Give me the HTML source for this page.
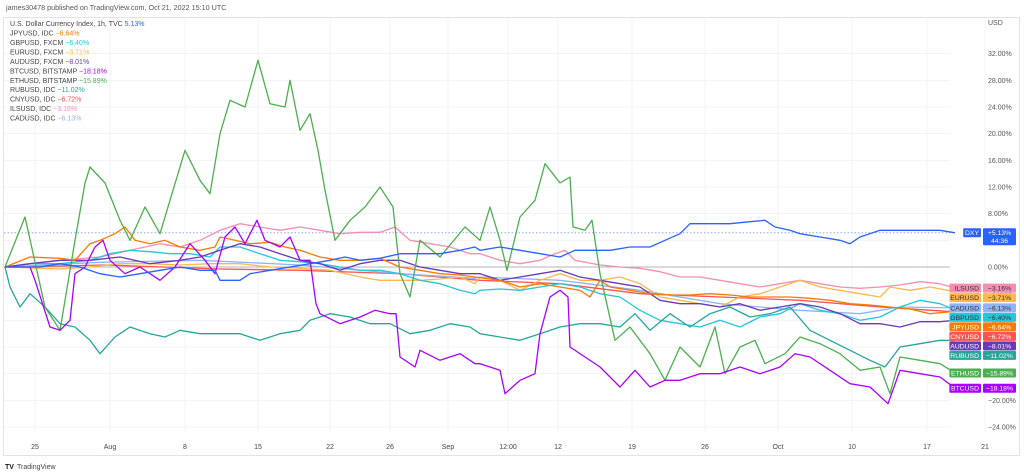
<!DOCTYPE html>
<html><head><meta charset="utf-8"><style>
html,body{margin:0;padding:0;background:#fff;width:1024px;height:475px;overflow:hidden}
svg{display:block;font-family:"Liberation Sans",sans-serif}
</style></head><body>
<svg id="chart" width="1024" height="475" viewBox="0 0 1024 475"></svg>
<script>
// ---- data ----
const yTicks=[32,28,24,20,16,12,8,4,0,-4,-8,-12,-16,-20,-24];
const xTickPos=[3,10.5,18,25.3,32.5,38.5,44.3,50.3,55.3,62.7,70,77.3,84.7,92.2,98];
const xTickLabels=["25","Aug","8","15","22","26","Sep","12:00","12","19","26","Oct","10","17","21"];
const dxy=[[0,0],[1.5,0],[3.5,0],[5.5,0.5],[7.5,0],[9.5,-1],[11.5,-1.5],[13.5,-1],[15.5,-0.5],[17.5,0],[19.5,-0.5],[21,-0.5],[21.5,-2],[23.5,-2],[24.5,-1],[26.5,-0.5],[28.5,0],[30.5,0.5],[32.5,1],[34,1.5],[35.5,1],[37.5,1.3],[39.5,2],[41.5,2],[43.5,2],[45.5,2.5],[47,3],[47.5,2.5],[49.5,3],[51.5,2.5],[53.5,2],[55.5,1.5],[57,2.5],[58.5,2.5],[60.5,2.5],[62.5,3],[64.5,3],[66,4],[67.5,5],[68.5,6.5],[70.5,6.5],[72.5,6.5],[74.5,6.8],[76,7],[77,6],[78.5,5.5],[79.5,5],[81.5,4.5],[83.5,4],[84.5,3.5],[85.5,4.5],[87.5,5.5],[89.5,5.5],[91.5,5.5],[93.5,5.5],[95,5.13]];
const jpy=[[0,0],[2.5,1.5],[5.5,1.3],[7,1],[8.5,3.5],[9.5,4],[11,5],[12,6],[13,4],[14.5,3.5],[16,4],[17.5,3],[19.5,2.5],[21,3],[21.5,4.5],[23,4],[24.5,3.5],[26.5,3.7],[28,3],[29.5,2.5],[31.5,1.5],[33.5,1],[35.5,1],[37.5,1.3],[39.5,0],[41.5,-0.5],[43.5,-1],[45.5,-1.2],[47,-1.5],[49.5,-2],[51.5,-3],[53.5,-2.5],[55.5,-3],[57.5,-3.5],[58.5,-4.5],[59.5,-2],[60.5,-3],[62.5,-3.5],[64.5,-4],[66.5,-4.2],[68.5,-4.2],[70.5,-4],[72.5,-4.2],[74.5,-4.5],[76.5,-4.5],[78.5,-4.5],[80.5,-4.7],[82.5,-5],[84.5,-5.5],[86.5,-5.7],[88.5,-6],[90.5,-6.3],[92.5,-7],[95,-6.64]];
const gbp=[[0,0],[2.5,0.5],[5.5,0.5],[8.5,1],[10.5,2],[12.5,2.5],[14.5,2.3],[16.5,2],[18.5,2],[20.5,1.5],[21.5,3],[23.5,3],[25.5,2],[27.5,1],[29.5,0.8],[31.5,0.5],[33.5,0],[35.5,-0.5],[37.5,-0.5],[39.5,-1],[41.5,-2],[43.5,-2.5],[45.5,-3.5],[47,-4],[47.5,-3.5],[49.5,-3.3],[51.5,-3.5],[53.5,-3],[55.5,-2.5],[57.5,-3],[59.5,-4],[61.5,-4.5],[63.5,-6.5],[65.5,-8],[67.5,-8.5],[69.5,-9],[71.5,-8],[73.5,-9],[75.5,-7.5],[77.5,-7],[79.5,-5.5],[81.5,-6.5],[83.5,-7],[85.5,-8],[87.5,-7.5],[89.5,-6],[91.5,-5],[93.5,-5.5],[95,-6.4]];
const eur=[[0,0],[5.5,-0.3],[8.5,0],[11.5,0.5],[14.5,0.5],[17.5,0.3],[20.5,0.5],[23.5,0.5],[26.5,0],[29.5,-0.2],[32.5,-0.5],[35.5,-1.5],[37.5,-2],[41.5,-2],[43.5,-1.8],[45.5,-1.5],[47,-2.5],[47.5,-1.5],[49.5,-2],[51.5,-3.5],[53.5,-2],[55.5,-1],[57.5,-2],[59.5,-2],[61.5,-1.5],[63.5,-2.5],[65.5,-4.5],[67.5,-5],[69.5,-5.5],[71.5,-6],[73.5,-4.5],[75.5,-4],[77.5,-3],[79.5,-2],[81.5,-3],[83.5,-3.5],[85.5,-4],[87.5,-4.5],[88.5,-3],[90.5,-3.5],[92.5,-3],[95,-3.71]];
const aud=[[0,0],[2.5,0.5],[5.5,1],[8.5,1],[11.5,1.5],[14.5,0.5],[17.5,1],[19.5,1.5],[21.5,2.5],[23.5,3.5],[25.5,3],[27.5,2],[29.5,1],[31.5,0.5],[33.5,-0.5],[35.5,0.5],[37.5,1],[39.5,1],[41.5,0],[43.5,-0.5],[45.5,-1],[47.5,-1],[49.5,-2],[51.5,-1.5],[53.5,-1],[55.5,-0.5],[57.5,-1.5],[59.5,-2],[61.5,-2.5],[63.5,-3],[65.5,-5],[67.5,-5.5],[69.5,-5.5],[71.5,-6],[73.5,-5.5],[75.5,-6.5],[77.5,-6],[79.5,-5.5],[81.5,-6],[83.5,-7],[85.5,-8.5],[87.5,-8.5],[89.5,-9],[91.5,-8.2],[93.5,-8.2],[95,-8.01]];
const btc=[[0,0],[1.5,0],[2.5,0],[3,-2],[4.5,-9],[5.5,-9.5],[6.5,-8],[7,-1],[8,0],[9,3],[9.8,4],[10.5,1],[12,-1],[13.5,0],[15.5,-2],[17,0],[18.5,3.5],[20,1],[21,-1],[22,4.5],[23,6],[24,3.5],[25.2,7],[26,4],[27.5,3],[28.5,4.5],[29.5,1],[30.5,1],[31.1,-5.5],[31.5,-7],[33.5,-8.5],[35.5,-7.5],[37,-6.5],[38.5,-7],[39.1,-7],[39.5,-13.5],[41,-15],[41.5,-12.5],[43.5,-14],[45.5,-13],[47,-14.5],[47.5,-14.5],[49.5,-15.5],[50,-19],[51.5,-17],[53,-16],[53.5,-10],[54.5,-4.5],[55.5,-3.5],[56.3,-4.5],[56.5,-12],[58,-13.5],[59.5,-15],[61.5,-18],[63,-15.5],[64.5,-18],[66,-17],[67.5,-17],[69.5,-16],[71.5,-16],[73.5,-15],[75.5,-16],[77.5,-15],[79,-13],[80.5,-13.5],[82.5,-15.5],[84.5,-17.5],[86.5,-18],[88.3,-20.5],[89.5,-15.5],[91.5,-16],[93.5,-16.5],[95,-18.18]];
const eth=[[0,0],[2,7.5],[4,-6],[5.5,-9.5],[7,4],[8,12.6],[8.5,15],[10,12.6],[11.5,7],[12.5,4],[14,9],[15.5,5],[16.5,10],[18,17.5],[19.5,13],[20.5,11],[21.5,20],[22.5,25],[24,24],[25.3,31],[26.5,24.5],[28,24],[28.5,28],[29.5,20.5],[30.5,23],[31.3,17.5],[32,11.5],[33,4],[34.5,7],[36,9],[37.5,12],[38.8,9],[39.5,-1],[40.5,-4.5],[41.5,4],[43.5,1.5],[46,6],[47.5,4],[48.5,9],[49.5,4],[50.2,-0.5],[51.5,7.5],[53,10],[54,15.5],[55.5,12.6],[56.5,13.5],[56.8,6],[58,5.5],[58.7,7],[59.5,-1],[61,-11],[62.5,-9],[64.5,-13],[66,-17],[67.5,-12],[69.5,-15],[71,-9],[72,-16],[73.5,-12],[75,-11],[76,-14.5],[78,-13],[79.5,-10.5],[81.5,-11.5],[83.5,-13],[85.5,-15.5],[87.5,-15],[88.5,-19],[89.5,-13.5],[91.5,-14],[93.5,-14.5],[95,-15.89]];
const rub=[[0,0],[0.5,-3],[1.5,-6],[2.5,-4],[4,-6],[5.5,-8.5],[7,-9],[8.5,-11],[9.5,-13],[11,-10.5],[12.5,-9],[14.5,-10],[16,-10.5],[17.5,-9.5],[19.5,-10],[21.5,-10],[23.5,-10],[25.5,-11],[27.5,-10],[29.5,-9.5],[30.5,-8],[32.5,-7],[34.5,-7.5],[36.5,-8.5],[38.5,-8.5],[40.5,-10],[42.5,-9.5],[44.5,-8.5],[46.5,-9],[47.5,-10],[49.5,-10.5],[51.5,-11],[53.5,-10],[55.5,-9],[57.5,-8.5],[59.5,-8.5],[61.5,-9],[63,-7],[64.5,-9.5],[66.5,-7],[68.5,-9],[70.5,-7],[72.5,-6],[74.5,-7.5],[76.5,-7],[78.5,-6],[80.5,-9.5],[82.5,-11],[84.5,-12.5],[86.5,-14],[88,-15],[89.5,-12],[91.5,-11.5],[93.5,-11],[95,-11.02]];
const cny=[[0,0],[10,0.3],[21.5,-0.3],[29.5,-0.5],[39.5,-1],[47.5,-2],[55.5,-2.5],[63.5,-4],[71.5,-4.5],[79.5,-5],[87.5,-6],[95,-6.72]];
const ils=[[0,0],[5.5,1],[9.5,1.5],[12.5,2.5],[15.5,3.5],[17.5,3],[19.5,4],[21.5,5.5],[23.5,6.5],[25.5,6],[27.5,5.5],[29.5,6],[31.5,5.5],[33.5,5],[35.5,5.2],[37.5,5.2],[39,6],[40.5,4],[42.5,3.5],[44.5,3],[46.5,2],[47.5,2],[49.5,1],[51.5,0.5],[53.5,1],[55,2],[56,2.5],[57,1],[59.5,0.3],[61.5,0],[63.5,-0.2],[65.5,-0.7],[67.5,-1.5],[69.5,-1.5],[71.5,-2],[73.5,-2.5],[75.5,-3],[77.5,-2.5],[79.5,-2],[81.5,-2.5],[83.5,-3],[85.5,-3.2],[87.5,-3],[89.5,-2.7],[91.5,-2.2],[93.5,-2.5],[95,-3.16]];
const cad=[[0,0],[9.5,0.7],[19.5,1],[29.5,0.3],[39.5,-1],[47,-1.7],[47.5,-1.5],[55.5,-2],[63.5,-3.5],[71.5,-5.5],[79.5,-6.5],[85.5,-7],[89.5,-6],[95,-6.13]];

const seriesNames=["JPYUSD","GBPUSD","EURUSD","AUDUSD","BTCUSD","ETHUSD","RUBUSD","CNYUSD","ILSUSD","CADUSD"];
const seriesData=[jpy,gbp,eur,aud,btc,eth,rub,cny,ils,cad];
const seriesSrc=["IDC","FXCM","FXCM","FXCM","BITSTAMP","BITSTAMP","IDC","IDC","IDC","IDC"];
const seriesColors=["#f57c00","#26c6da","#ffb74d","#673ab7","#aa00ff","#4caf50","#26a69a","#ff5252","#f48fb1","#90b4f9"];
const darkText=[false,true,true,false,false,false,false,false,true,true];

// ---- scales ----
const X0=5,XS=10;
function xs(t){return X0+t*XS;}
function ys(v){return 267-v*6.667;}
const NS="http://www.w3.org/2000/svg";
const svg=document.getElementById('chart');
function mk(tag,attrs,parent){const e=document.createElementNS(NS,tag);for(const k in attrs)e.setAttribute(k,attrs[k]);(parent||svg).appendChild(e);return e;}
function fmt(v){return (v>0?"+":v<0?"−":"")+Math.abs(v).toFixed(2)+"%";}

// frame
let fr=mk('rect',{x:3.5,y:17.5,width:1016,height:438,fill:'none',stroke:'#e0e3eb'});



// grid
const grid=mk('g',{});


yTicks.forEach(v=>{mk('line',{x1:4,x2:950,y1:ys(v),y2:ys(v),stroke:'#f2f3f7'},grid);});
xTickPos.forEach(t=>{mk('line',{x1:xs(t),x2:xs(t),y1:18,y2:432,stroke:'#f2f3f7'},grid);});
let zl=mk('line',{x1:4,x2:950,y1:ys(0),y2:ys(0),stroke:'#b2b5be'});


let dl=mk('line',{x1:4,x2:950,y1:ys(dxy[dxy.length-1][1]),y2:ys(dxy[dxy.length-1][1]),stroke:'#8fa6ff','stroke-dasharray':'1.5,2'});



// y axis labels
const ya=mk('g',{'font-size':'7','fill':'#555'});


yTicks.forEach(v=>{
  if(v===4) return;
  const t=mk('text',{x:988,y:ys(v)+2.5},ya);
  t.textContent=(v<0?"−":"")+Math.abs(v).toFixed(2)+"%";
  
  
});
const usd=mk('text',{x:988,y:25,'font-size':'7',fill:'#555'});usd.textContent="USD";



// x axis labels
const xa=mk('g',{'font-size':'7','fill':'#444','text-anchor':'middle'});


xTickPos.forEach((t,i)=>{
  const e=mk('text',{x:xs(t),y:449},xa);e.textContent=xTickLabels[i];
  
  
});

// series lines
function drawLine(data,color,name){
  const d=data.map((p,i)=>(i?'L':'M')+xs(p[0]).toFixed(1)+','+ys(p[1]).toFixed(1)).join('');
  const p=mk('path',{d:d,fill:'none',stroke:color,'stroke-width':1.3,'stroke-linejoin':'round'});
  
  
}
[7,9,8,2,1,3,0,6,5,4].forEach(i=>drawLine(seriesData[i],seriesColors[i],seriesNames[i].toLowerCase()+'-line'));
drawLine(dxy,'#2962ff','dxy-line');

// right-side labels with stacking
const items=seriesData.map((d,i)=>({i:i,v:d[d.length-1][1]})).sort((a,b)=>b.v-a.v);
let last=-1e9;
items.forEach(it=>{
  let y=ys(it.v); if(y<last+9.5) y=last+9.5; last=y; it.y=y;
});
function tag(y,name,val,color,dark,h,key){
  const g=mk('g',{'font-size':'6.8'});
  
  
  const tw=name.length*4.6+4;
  mk('rect',{x:981-tw,y:y-4.5,width:tw,height:9,fill:color,rx:1},g);
  const a=mk('text',{x:979,y:y+2.4,'text-anchor':'end',fill:dark?'#333':'#fff'},g);a.textContent=name;
  mk('rect',{x:983,y:y-4.5,width:33,height:h,fill:color,rx:1},g);
  const b=mk('text',{x:999.5,y:y+2.4,'text-anchor':'middle',fill:dark?'#333':'#fff'},g);b.textContent=val;
  return g;
}
items.forEach(it=>tag(it.y,seriesNames[it.i],fmt(it.v),seriesColors[it.i],darkText[it.i],9,seriesNames[it.i].toLowerCase()));
const dv=dxy[dxy.length-1][1];
const dg=tag(ys(dv),"DXY",fmt(dv),'#2962ff',false,17,'dxy');
const cd=mk('text',{x:999.5,y:ys(dv)+10,'text-anchor':'middle',fill:'#fff','font-size':'6.8'},dg);cd.textContent="44:36";

// header + legend
const hd=mk('text',{x:6,y:10,'font-size':'7.2',fill:'#555'});
hd.textContent="james30478 published on TradingView.com, Oct 21, 2022 15:10 UTC";


const lg=mk('g',{'font-size':'7'});


function legendRow(y,label,val,color,key){
  const t=mk('text',{x:10,y:y},lg);
  
  
  const a=mk('tspan',{fill:'#444'},t);a.textContent=label+"  ";
  const b=mk('tspan',{fill:color},t);b.textContent=val;
}
legendRow(26,"U.S. Dollar Currency Index, 1h, TVC",dv.toFixed(2)+"%",'#2962ff','dxy');
seriesNames.forEach((n,i)=>{const d=seriesData[i];legendRow(35.5+i*9.45,n+", "+seriesSrc[i],fmt(d[d.length-1][1]),seriesColors[i],n.toLowerCase());});

// footer logo
const ft=mk('g',{});


const ft1=mk('text',{x:5,y:469,'font-size':'7','font-weight':'bold',fill:'#131722'},ft);ft1.textContent="TV";
const ft2=mk('text',{x:17,y:469,'font-size':'7',fill:'#444'},ft);ft2.textContent="TradingView";
</script>
</body></html>
